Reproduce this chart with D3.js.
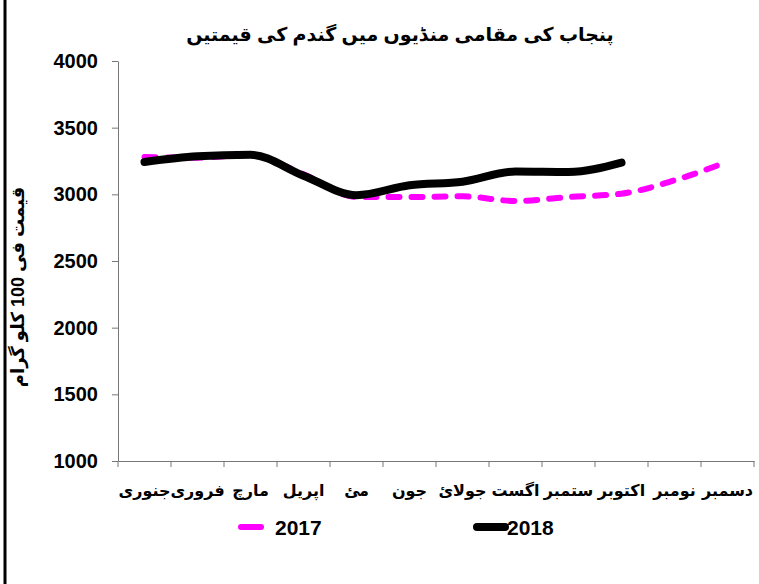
<!DOCTYPE html>
<html>
<head>
<meta charset="utf-8">
<script src="https://cdn.jsdelivr.net/npm/d3@7"></script>
<style>
  body { margin: 0; background: #fff; }
  text { font-family: "Liberation Sans", Arial, "DejaVu Sans", sans-serif; font-weight: bold; }
</style>
</head>
<body>
<div id="chart"></div>
<script>
// months, left to right (Jan .. Dec)
var months = ["جنوری", "فروری", "مارچ", "اپریل", "مئ", "جون", "جولائ", "اگست", "ستمبر", "اکتوبر", "نومبر", "دسمبر"];
var prices2017 = [3280, 3275, 3295, 3150, 2980, 2980, 2985, 2950, 2980, 3005, 3105, 3245];
var prices2018 = [3243, 3285, 3297, 3140, 2993, 3068, 3095, 3172, 3168, 3238];
var yTicks = [1000, 1500, 2000, 2500, 3000, 3500, 4000];

const svgDimentions = { width: 759, height: 584 };
const margins = { top: 61, bottom: 123, left: 118, right: 5 };

var svg = d3.select("#chart").append("svg")
    .attr("width", svgDimentions.width)
    .attr("height", svgDimentions.height);

// left border line
svg.append("line")
    .attr("x1", 5).attr("x2", 5)
    .attr("y1", 0).attr("y2", svgDimentions.height)
    .attr("stroke", "#000").attr("stroke-width", 3);

var scaleX = d3.scaleBand()
    .domain(months)
    .range([margins.left, 754])
    .padding(0);

var scaleY = d3.scaleLinear()
    .domain([1000, 4000])
    .range([svgDimentions.height - margins.bottom, margins.top]);

// y axis
var axisY = d3.axisLeft(scaleY).tickValues(yTicks).tickFormat(d3.format("d"))
    .tickSize(6).tickSizeOuter(0).tickPadding(14);
var gy = svg.append("g")
    .attr("class", "y axis")
    .attr("transform", "translate(" + margins.left + ",0)")
    .call(axisY);
gy.select(".domain").attr("stroke", "#777");
gy.selectAll(".tick line").attr("stroke", "#777");
gy.selectAll(".tick text").attr("font-size", 20).attr("fill", "#000");

// x axis: labels at band centres, ticks at band edges
var x0 = svgDimentions.height - margins.bottom;
var axisX = d3.axisBottom(scaleX).tickSize(0).tickPadding(24);
var gx = svg.append("g")
    .attr("class", "x axis")
    .attr("transform", "translate(0," + x0 + ")")
    .call(axisX);
gx.select(".domain").attr("stroke", "#777");
gx.selectAll(".tick text").attr("font-size", 16).attr("fill", "#000");

var edges = months.map(d => scaleX(d)).concat([scaleX.range()[1]]);
gx.selectAll(".edge")
    .data(edges)
    .enter().append("line")
    .attr("class", "edge")
    .attr("x1", d => d).attr("x2", d => d)
    .attr("y1", 0).attr("y2", 6)
    .attr("stroke", "#777");

var line = d3.line()
    .x((d, i) => scaleX(months[i]) + scaleX.bandwidth() / 2)
    .y(d => scaleY(d))
    .curve(d3.curveMonotoneX);

svg.append("path")
    .datum(prices2017)
    .attr("d", line)
    .attr("fill", "none")
    .attr("stroke", "#ff00ff")
    .attr("stroke-width", 6)
    .attr("stroke-linecap", "round")
    .attr("stroke-dasharray", "11,12");

svg.append("path")
    .datum(prices2018)
    .attr("d", line)
    .attr("fill", "none")
    .attr("stroke", "#000")
    .attr("stroke-width", 8)
    .attr("stroke-linecap", "round");

// title
svg.append("text")
    .attr("x", 400).attr("y", 41)
    .attr("text-anchor", "middle")
    .attr("font-size", 19)
    .text("پنجاب کی مقامی منڈیوں میں گندم کی قیمتیں");

// y axis title
svg.append("text")
    .attr("transform", "translate(24,287) rotate(-90)")
    .attr("text-anchor", "middle")
    .attr("font-size", 18)
    .text("قیمت فی 100 کلو گرام");

// legend
var legend = [
    { name: "2017", color: "#ff00ff", w: 6, x: 241, len: 20, tx: 275 },
    { name: "2018", color: "#000", w: 8, x: 477, len: 28, tx: 507 }
];
var lg = svg.selectAll(".legend").data(legend).enter().append("g").attr("class", "legend");
lg.append("line")
    .attr("x1", d => d.x).attr("x2", d => d.x + d.len)
    .attr("y1", 527).attr("y2", 527)
    .attr("stroke", d => d.color)
    .attr("stroke-width", d => d.w)
    .attr("stroke-linecap", "round");
lg.append("text")
    .attr("x", d => d.tx).attr("y", 535)
    .attr("font-size", 21)
    .text(d => d.name);
</script>
</body>
</html>
